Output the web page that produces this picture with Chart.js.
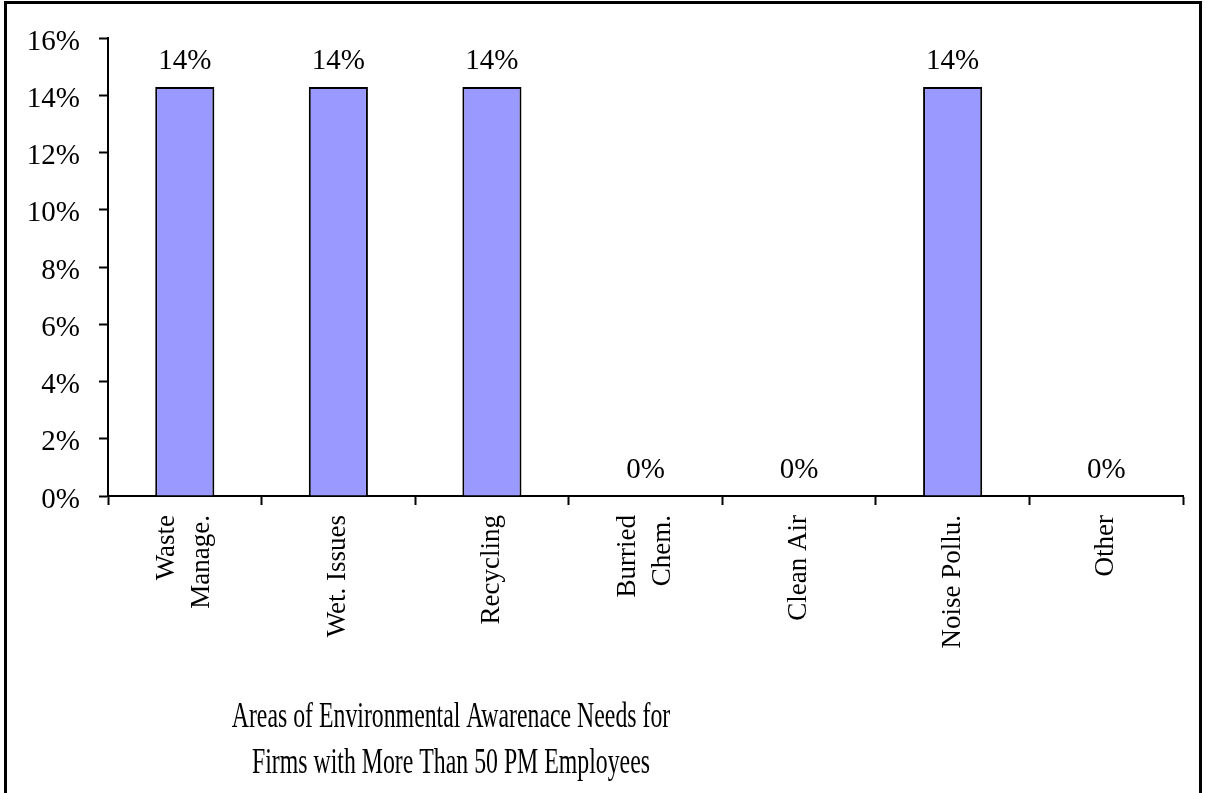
<!DOCTYPE html>
<html>
<head>
<meta charset="utf-8">
<script src="https://cdn.jsdelivr.net/npm/chart.js@4.4.1/dist/chart.umd.min.js"></script>
<style>
  html, body { margin: 0; padding: 0; background: #fff; }
  #wrap { position: relative; width: 1206px; height: 793px; overflow: hidden; }
  #frame {
    position: absolute; left: 4px; top: 1px; width: 1198px; height: 900px;
    border: 3px solid #000; box-sizing: border-box; pointer-events: none;
  }
  canvas { position: absolute; left: 0; top: 0; }
</style>
</head>
<body>
<div id="wrap">
  <canvas id="envChart" width="1206" height="793"></canvas>
  <div id="frame"></div>
</div>
<script>
// --- data ---
const categories = [
  ["Waste", "Manage."],
  "Wet. Issues",
  "Recycling",
  ["Burried", "Chem."],
  "Clean Air",
  "Noise Pollu.",
  "Other",
];
const shares = [14.29, 14.29, 14.29, 0, 0, 14.29, 0]; // percent of firms
const yTicks = [0, 2, 4, 6, 8, 10, 12, 14, 16];
const titleLines = [
  "Areas of Environmental Awarenace Needs for",
  "Firms with More Than 50 PM Employees",
];

const serif = "'Liberation Serif', 'Times New Roman', serif";
const xFontSize = 27;
const xLineHeight = 1.3;

// value labels above each bar
const barLabels = {
  id: "barLabels",
  afterDatasetsDraw(chart) {
    const ctx = chart.ctx;
    const meta = chart.getDatasetMeta(0);
    ctx.save();
    ctx.font = "29px " + serif;
    ctx.fillStyle = "#000";
    ctx.textAlign = "center";
    ctx.textBaseline = "alphabetic";
    meta.data.forEach((bar, i) => {
      ctx.fillText(Math.round(shares[i]) + "%", bar.x, bar.y - 18);
    });
    ctx.restore();
  },
};

// centre the two-line category labels on their slot, nudge y labels down a bit
const labelNudge = {
  id: "labelNudge",
  beforeDraw(chart) {
    const xItems = chart.scales.x.getLabelItems(chart.chartArea);
    xItems.forEach((item) => {
      if (item._nudged) return;
      item._nudged = true;
      if (Array.isArray(item.label) && item.label.length > 1) {
        const lh = xFontSize * xLineHeight;
        item.options.translation[0] -= ((item.label.length - 1) * lh) / 2;
      }
    });
    const yItems = chart.scales.y.getLabelItems(chart.chartArea);
    yItems.forEach((item) => {
      if (item._nudged) return;
      item._nudged = true;
      item.options.translation[1] += 4;
    });
  },
};

// title sits below the axis labels, in a narrow serif
const bottomTitle = {
  id: "bottomTitle",
  afterDraw(chart) {
    const ctx = chart.ctx;
    const baselines = [727, 773];
    ctx.save();
    ctx.fillStyle = "#000";
    ctx.textAlign = "center";
    ctx.textBaseline = "alphabetic";
    ctx.font = "35px " + serif;
    titleLines.forEach((line, i) => {
      ctx.save();
      ctx.translate(451, baselines[i]);
      ctx.scale(0.68, 1);
      ctx.fillText(line, 0, 0);
      ctx.restore();
    });
    ctx.restore();
  },
};

new Chart(document.getElementById("envChart"), {
  type: "bar",
  data: {
    labels: categories,
    datasets: [
      {
        data: shares,
        backgroundColor: "#9999FF",
        borderColor: "#000",
        borderWidth: 2,
        barPercentage: 0.385,
        categoryPercentage: 1,
      },
    ],
  },
  options: {
    responsive: false,
    animation: false,
    devicePixelRatio: 1,
    layout: { padding: { left: 0, top: 38, right: 23, bottom: 0 } },
    plugins: {
      legend: { display: false },
      tooltip: { enabled: false },
    },
    scales: {
      x: {
        offset: true,
        grid: {
          offset: true,
          drawOnChartArea: false,
          drawTicks: true,
          tickLength: 9,
          tickColor: "#000",
          tickWidth: 2,
        },
        border: { display: true, color: "#000", width: 2 },
        ticks: {
          color: "#000",
          font: { family: serif, size: xFontSize, lineHeight: xLineHeight },
          minRotation: 90,
          maxRotation: 90,
          padding: 10,
          autoSkip: false,
        },
        afterFit(scale) {
          scale.height = 297;
        },
      },
      y: {
        min: 0,
        max: 16,
        afterBuildTicks(scale) {
          scale.ticks = yTicks.map((v) => ({ value: v }));
        },
        grid: {
          drawOnChartArea: false,
          drawTicks: true,
          tickLength: 9,
          tickColor: "#000",
          tickWidth: 2,
        },
        border: { display: true, color: "#000", width: 2 },
        ticks: {
          color: "#000",
          font: { family: serif, size: 29 },
          padding: 19,
          callback: (v) => v + "%",
        },
        afterFit(scale) {
          scale.width = 108;
        },
      },
    },
  },
  plugins: [labelNudge, barLabels, bottomTitle],
});
</script>
</body>
</html>
